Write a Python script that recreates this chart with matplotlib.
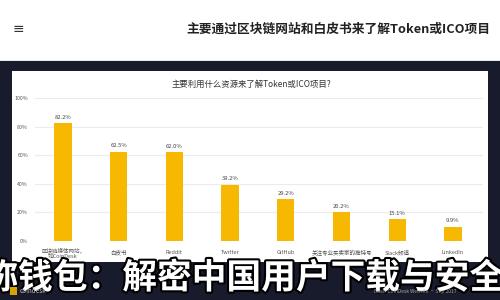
import matplotlib
matplotlib.use("Agg")
import matplotlib.pyplot as plt
from matplotlib.patches import Rectangle
import matplotlib.patheffects as pe

plt.rcParams['font.family'] = ['Noto Sans CJK SC', 'DejaVu Sans']

categories = ["区块链媒体网站，\n如CoinDesk", "白皮书", "Reddit", "Twitter", "GitHub",
              "关注专业买卖家的推特号", "Slack频道", "LinkedIn"]
values = [82.2, 62.5, 62.0, 39.2, 29.2, 20.2, 15.1, 9.9]
yticks = [0, 20, 40, 60, 80, 100]
ytick_labels = ["0%", "20%", "40%", "60%", "80%", "100%"]

header_title = "主要通过区块链网站和白皮书来了解Token或ICO项目"
chart_title = "主要利用什么资源来了解Token或ICO项目?"
banner = "称钱包：解密中国用户下载与安全"
source = "Base: CoinDesk Website · Sep 2017"

W, H = 500, 300
fig = plt.figure(figsize=(5, 3), dpi=100, facecolor="#181b2c")

def fx(px):
    return px / W

def fy(py):
    return 1 - py / H

# header
fig.patches.append(Rectangle((0, fy(60)), 1, 60 / H, transform=fig.transFigure,
                             facecolor="white", edgecolor="none", zorder=0))
fig.patches.append(Rectangle((0, fy(61)), 1, 1 / H, transform=fig.transFigure,
                             facecolor="#e6e8ee", edgecolor="none", zorder=0))
fig.text(fx(18), fy(29), "≡", fontsize=10, color="#333333", ha="center", va="center",
         family="DejaVu Sans")
fig.text(fx(490), fy(29), header_title, fontsize=9.2, fontweight="bold", color="#222222",
         ha="right", va="center")

# white card
fig.patches.append(Rectangle((fx(12), fy(262)), fx(476), (262 - 71) / H,
                             transform=fig.transFigure, facecolor="white",
                             edgecolor="none", zorder=0))
fig.text(fx(251), fy(84), chart_title, fontsize=6.0, color="#333333",
         ha="center", va="center")

# axes
ax = fig.add_axes([fx(35), fy(241), fx(448), (241 - 98) / H], zorder=2)
ax.set_facecolor("none")
x = list(range(len(categories)))
bars = ax.bar(x, values, width=0.31, color="#f6b800", zorder=3)
for xi, v in zip(x, values):
    ax.text(xi, v + 2.5, f"{v}%", ha="center", va="bottom", fontsize=4.2, color="#444444")
ax.set_xlim(-0.503, 7.54)
ax.set_ylim(0, 100)
ax.set_yticks(yticks)
ax.set_yticklabels(ytick_labels, fontsize=3.8, color="#555555")
ax.set_xticks(x)
ax.set_xticklabels(categories, fontsize=4.0, color="#555555", linespacing=1.0, va="center")
ax.tick_params(axis="both", length=0)
ax.tick_params(axis="x", pad=8.5)
ax.tick_params(axis="y", pad=5)
ax.grid(axis="y", color="#ececec", linewidth=0.8, zorder=0)
for s in ax.spines.values():
    s.set_visible(False)

# banner text
fig.text(fx(244), fy(278), banner, fontsize=25, fontweight="bold", color="white",
         ha="center", va="center", zorder=5,
         path_effects=[pe.withStroke(linewidth=3, foreground="black")])

fig.text(fx(415), fy(291), source, fontsize=3.5, color="#aaaaaa", ha="center", va="center",
         zorder=6)
fig.patches.append(Rectangle((fx(10), fy(295)), fx(7), 8 / H, transform=fig.transFigure,
                             facecolor="#d8a400", edgecolor="none", zorder=6))
fig.text(fx(20), fy(291), "coindesk", fontsize=4.5, color="#cccccc", ha="left", va="center",
         zorder=6)

fig.savefig("out.png", dpi=100, facecolor=fig.get_facecolor())
